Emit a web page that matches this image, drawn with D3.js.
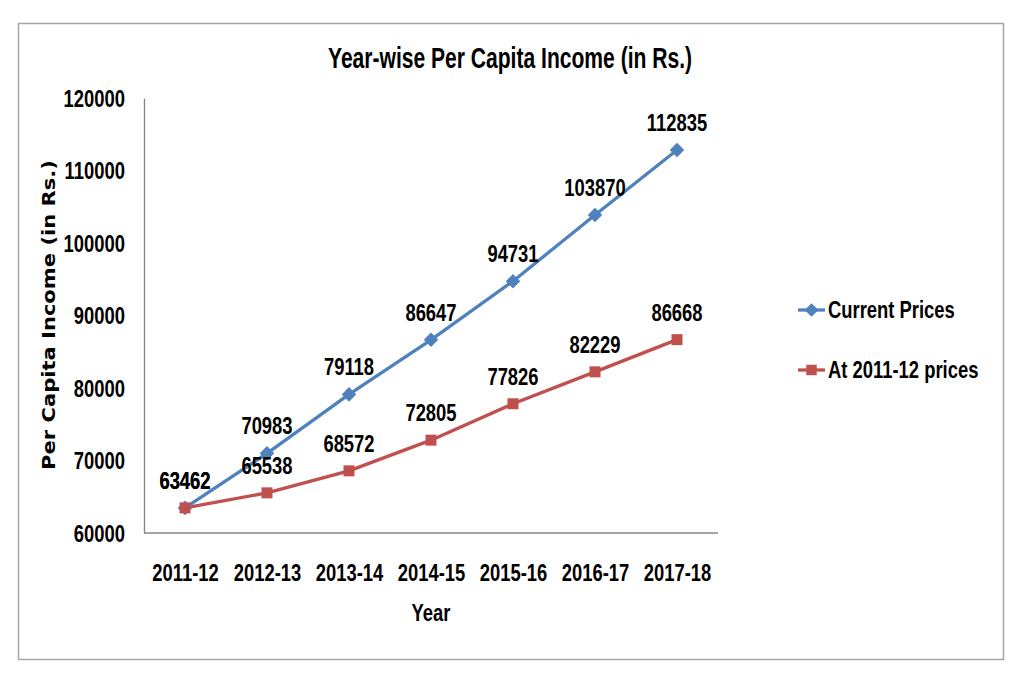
<!DOCTYPE html>
<html>
<head>
<meta charset="utf-8">
<script src="https://cdn.jsdelivr.net/npm/d3@7"></script>
<style>
  body { margin: 0; background: #fff; }
  text { font-family: "Liberation Sans", Arial, sans-serif; font-weight: bold; fill: #000; }
</style>
</head>
<body>
<div id="chart"></div>
<script>
const years = ["2011-12", "2012-13", "2013-14", "2014-15", "2015-16", "2016-17", "2017-18"];
const currentPrices = [63462, 70983, 79118, 86647, 94731, 103870, 112835];
const constPrices = [63462, 65538, 68572, 72805, 77826, 82229, 86668];
const yTicks = [60000, 70000, 80000, 90000, 100000, 110000, 120000];
const seriesNames = ["Current Prices", "At 2011-12 prices"];

const width = 1024, height = 675;
const svg = d3.select("#chart").append("svg")
  .attr("width", width).attr("height", height);

// outer frame
svg.append("rect")
  .attr("x", 18.5).attr("y", 23.5)
  .attr("width", 985).attr("height", 636)
  .attr("fill", "#fff").attr("stroke", "#a6a6a6").attr("stroke-width", 1.5);

const x = d3.scalePoint().domain(years).range([144, 718]).padding(0.5);
const y = d3.scaleLinear().domain([60000, 120000]).range([533, 98]);

// y axis
const yAxis = svg.append("g").attr("transform", "translate(144,0)")
  .call(d3.axisLeft(y).tickValues(yTicks).tickSize(0).tickPadding(19).tickFormat(d3.format("d")));
yAxis.select(".domain").attr("stroke", "#868686").attr("stroke-width", 1.3);
yAxis.selectAll("text").attr("class", "narrow").style("font-size", "23px").attr("dy", "0.36em");

// x axis
const xAxis = svg.append("g").attr("transform", "translate(0,533)")
  .call(d3.axisBottom(x).tickSize(0).tickPadding(31));
xAxis.select(".domain").attr("stroke", "#868686").attr("stroke-width", 1.3)
  .attr("d", "M144,0H718");
xAxis.selectAll("text").attr("class", "narrow").style("font-size", "23px").attr("dy", "0.72em");

// title
svg.append("text").attr("x", 510).attr("y", 68)
  .attr("text-anchor", "middle").style("font-size", "29px")
  .attr("textLength", 364).attr("lengthAdjust", "spacingAndGlyphs")
  .text("Year-wise Per Capita Income (in Rs.)");

// axis titles
svg.append("text").attr("class", "narrow").attr("x", 431).attr("y", 621)
  .attr("text-anchor", "middle").style("font-size", "23px").text("Year");

svg.append("text")
  .attr("transform", "translate(55,315) rotate(-90)")
  .attr("text-anchor", "middle")
  .style("font-family", "'DejaVu Sans', Verdana, sans-serif").style("font-size", "17px")
  .attr("textLength", 310).attr("lengthAdjust", "spacingAndGlyphs")
  .text("Per Capita Income (in Rs.)");

const series = [
  { name: seriesNames[0], values: currentPrices, color: "#4f81bd", symbol: d3.symbolDiamond2 },
  { name: seriesNames[1], values: constPrices, color: "#c0504d", symbol: d3.symbolSquare }
];

const line = d3.line().x((d, i) => x(years[i])).y(d => y(d));

series.forEach(s => {
  svg.append("path").datum(s.values)
    .attr("fill", "none").attr("stroke", s.color).attr("stroke-width", 3.3)
    .attr("d", line);
});

series.forEach(s => {
  svg.selectAll(null).data(s.values).enter().append("path")
    .attr("transform", (d, i) => `translate(${x(years[i])},${y(d)})`)
    .attr("d", d3.symbol().type(s.symbol).size(s.symbol === d3.symbolSquare ? 121 : 135))
    .attr("fill", s.color);
});

series.forEach(s => {
  svg.selectAll(null).data(s.values).enter().append("text")
    .attr("class", "narrow")
    .attr("x", (d, i) => x(years[i]))
    .attr("y", d => y(d) - 19)
    .attr("text-anchor", "middle").style("font-size", "23px")
    .text(d => d);
});

// legend
const legend = svg.selectAll(".legend").data(series).enter().append("g")
  .attr("class", "legend")
  .attr("transform", (d, i) => `translate(798,${310 + i * 60})`);
legend.append("line").attr("x1", 0).attr("x2", 27)
  .attr("stroke", d => d.color).attr("stroke-width", 3.3);
legend.append("path").attr("transform", "translate(13.5,0)")
  .attr("d", d => d3.symbol().type(d.symbol).size(d.symbol === d3.symbolSquare ? 110 : 120)())
  .attr("fill", d => d.color);
legend.append("text").attr("class", "narrow").attr("x", 30).attr("dy", "0.36em")
  .style("font-size", "23px").text(d => d.name);

// condensed look: squeeze bold text horizontally
svg.selectAll("text.narrow").each(function () {
  const len = this.getComputedTextLength();
  d3.select(this).attr("textLength", len * 0.8).attr("lengthAdjust", "spacingAndGlyphs");
});
</script>
</body>
</html>
